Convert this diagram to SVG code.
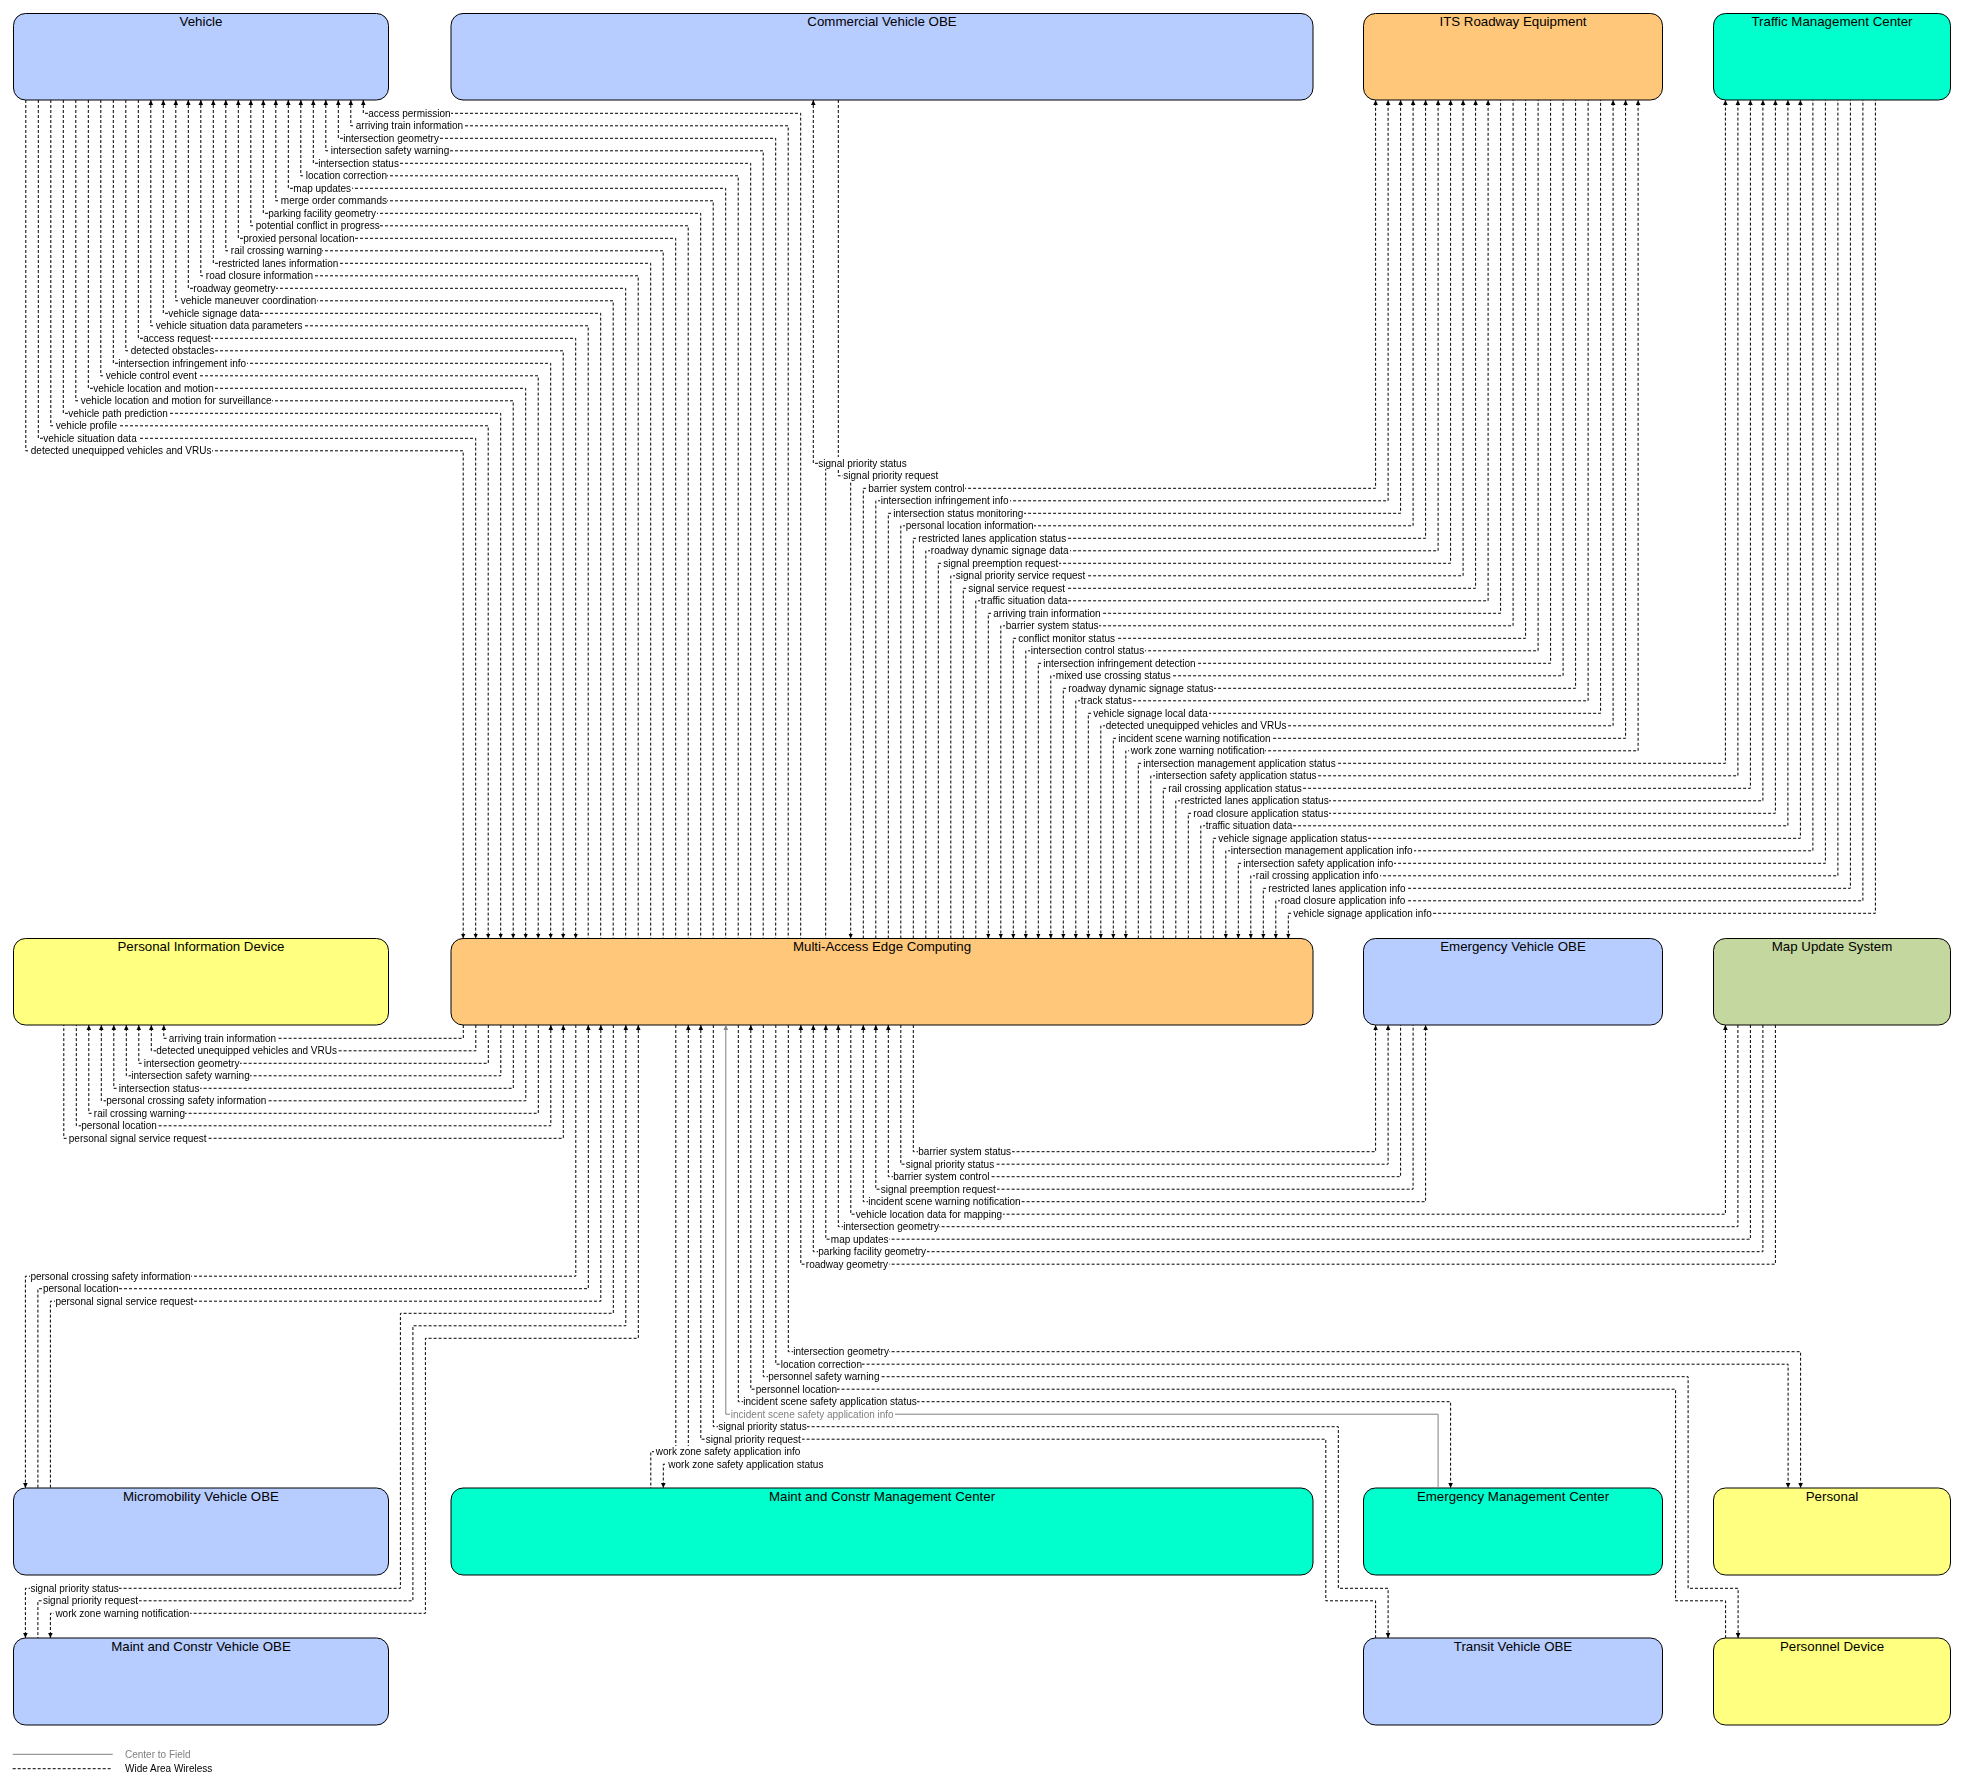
<svg xmlns="http://www.w3.org/2000/svg" width="1961" height="1787" viewBox="0 0 1961 1787">
<defs>
<style>
.bx{stroke:#000;stroke-width:1}
.blue{fill:#B7CCFF}.org{fill:#FFC77A}.aqua{fill:#00FFCC}.yel{fill:#FFFF80}.grn{fill:#C4D79E}
.t{font-family:"Liberation Sans",Arial,sans-serif;font-size:13.3px;text-anchor:middle;fill:#000}
.l{font-family:"Liberation Sans",Arial,sans-serif;font-size:10px;fill:#000;filter:url(#bg)}
.lg{fill:#808080}
</style>
<filter id="bg" x="0" y="0" width="1" height="1" color-interpolation-filters="sRGB"><feFlood flood-color="#fff"/><feComposite in="SourceGraphic"/></filter>
<marker id="a" markerUnits="userSpaceOnUse" viewBox="0 0 5 5" refX="5" refY="2.5" markerWidth="5" markerHeight="5" orient="auto-start-reverse"><path d="M0,0.2L5,2.5L0,4.8z" fill="#000"/></marker>
<marker id="ag" markerUnits="userSpaceOnUse" viewBox="0 0 5 5" refX="5" refY="2.5" markerWidth="5" markerHeight="5" orient="auto-start-reverse"><path d="M0,0.2L5,2.5L0,4.8z" fill="#808080"/></marker>
</defs>
<rect width="1961" height="1787" fill="#fff"/>

<g id="node-vehicle"><rect class="bx blue" x="13.5" y="13.5" width="375" height="86.5" rx="12"/><text class="t" x="201" y="26">Vehicle</text></g>
<g id="node-cvo"><rect class="bx blue" x="451" y="13.5" width="862" height="86.5" rx="12"/><text class="t" x="882" y="26">Commercial Vehicle OBE</text></g>
<g id="node-its"><rect class="bx org" x="1363.5" y="13.5" width="299" height="86.5" rx="12"/><text class="t" x="1513" y="26">ITS Roadway Equipment</text></g>
<g id="node-tmc"><rect class="bx aqua" x="1713.5" y="13.5" width="237" height="86.5" rx="12"/><text class="t" x="1832" y="26">Traffic Management Center</text></g>

<g id="node-pid"><rect class="bx yel" x="13.5" y="938.5" width="375" height="86.5" rx="12"/><text class="t" x="201" y="951">Personal Information Device</text></g>
<g id="node-maec"><rect class="bx org" x="451" y="938.5" width="862" height="86.5" rx="12"/><text class="t" x="882" y="951">Multi-Access Edge Computing</text></g>
<g id="node-evobe"><rect class="bx blue" x="1363.5" y="938.5" width="299" height="86.5" rx="12"/><text class="t" x="1513" y="951">Emergency Vehicle OBE</text></g>
<g id="node-mus"><rect class="bx grn" x="1713.5" y="938.5" width="237" height="86.5" rx="12"/><text class="t" x="1832" y="951">Map Update System</text></g>

<g id="node-micro"><rect class="bx blue" x="13.5" y="1488" width="375" height="87" rx="12"/><text class="t" x="201" y="1500.5">Micromobility Vehicle OBE</text></g>
<g id="node-mcmc"><rect class="bx aqua" x="451" y="1488" width="862" height="87" rx="12"/><text class="t" x="882" y="1500.5">Maint and Constr Management Center</text></g>
<g id="node-emc"><rect class="bx aqua" x="1363.5" y="1488" width="299" height="87" rx="12"/><text class="t" x="1513" y="1500.5">Emergency Management Center</text></g>
<g id="node-personal"><rect class="bx yel" x="1713.5" y="1488" width="237" height="87" rx="12"/><text class="t" x="1832" y="1500.5">Personal</text></g>

<g id="node-mcv"><rect class="bx blue" x="13.5" y="1638" width="375" height="87" rx="12"/><text class="t" x="201" y="1650.5">Maint and Constr Vehicle OBE</text></g>
<g id="node-transit"><rect class="bx blue" x="1363.5" y="1638" width="299" height="87" rx="12"/><text class="t" x="1513" y="1650.5">Transit Vehicle OBE</text></g>
<g id="node-pd"><rect class="bx yel" x="1713.5" y="1638" width="237" height="87" rx="12"/><text class="t" x="1832" y="1650.5">Personnel Device</text></g>

<g id="connectors" fill="none" stroke="#000" stroke-width="1" stroke-dasharray="3,2">
<path d="M363.3,100V113.3H800.7V938.5" marker-start="url(#a)"/>
<path d="M350.8,100V125.8H788.2V938.5" marker-start="url(#a)"/>
<path d="M338.3,100V138.3H775.7V938.5" marker-start="url(#a)"/>
<path d="M325.8,100V150.8H763.2V938.5" marker-start="url(#a)"/>
<path d="M313.3,100V163.3H750.7V938.5" marker-start="url(#a)"/>
<path d="M300.8,100V175.8H738.2V938.5" marker-start="url(#a)"/>
<path d="M288.3,100V188.3H725.7V938.5" marker-start="url(#a)"/>
<path d="M275.8,100V200.8H713.2V938.5" marker-start="url(#a)"/>
<path d="M263.3,100V213.3H700.7V938.5" marker-start="url(#a)"/>
<path d="M250.8,100V225.8H688.2V938.5" marker-start="url(#a)"/>
<path d="M238.3,100V238.3H675.7V938.5" marker-start="url(#a)"/>
<path d="M225.8,100V250.8H663.2V938.5" marker-start="url(#a)"/>
<path d="M213.3,100V263.3H650.7V938.5" marker-start="url(#a)"/>
<path d="M200.8,100V275.8H638.2V938.5" marker-start="url(#a)"/>
<path d="M188.3,100V288.3H625.7V938.5" marker-start="url(#a)"/>
<path d="M175.8,100V300.8H613.2V938.5" marker-start="url(#a)"/>
<path d="M163.3,100V313.3H600.7V938.5" marker-start="url(#a)"/>
<path d="M150.8,100V325.8H588.2V938.5" marker-start="url(#a)"/>
<path d="M138.3,100V338.3H575.7V938.5" marker-end="url(#a)"/>
<path d="M125.8,100V350.8H563.2V938.5" marker-end="url(#a)"/>
<path d="M113.3,100V363.3H550.7V938.5" marker-end="url(#a)"/>
<path d="M100.8,100V375.8H538.2V938.5" marker-end="url(#a)"/>
<path d="M88.3,100V388.3H525.7V938.5" marker-end="url(#a)"/>
<path d="M75.8,100V400.8H513.2V938.5" marker-end="url(#a)"/>
<path d="M63.3,100V413.3H500.7V938.5" marker-end="url(#a)"/>
<path d="M50.8,100V425.8H488.2V938.5" marker-end="url(#a)"/>
<path d="M38.3,100V438.3H475.7V938.5" marker-end="url(#a)"/>
<path d="M25.8,100V450.8H463.2V938.5" marker-end="url(#a)"/>

<path d="M813.3,100V463.3H825.7V938.5" marker-start="url(#a)"/>
<path d="M838.3,100V475.8H850.7V938.5" marker-end="url(#a)"/>

<path d="M863.3,938.5V488.3H1375.6V100" marker-end="url(#a)"/>
<path d="M875.8,938.5V500.8H1388.1V100" marker-end="url(#a)"/>
<path d="M888.3,938.5V513.3H1400.6V100" marker-end="url(#a)"/>
<path d="M900.8,938.5V525.8H1413.1V100" marker-end="url(#a)"/>
<path d="M913.3,938.5V538.3H1425.6V100" marker-end="url(#a)"/>
<path d="M925.8,938.5V550.8H1438.1V100" marker-end="url(#a)"/>
<path d="M938.3,938.5V563.3H1450.6V100" marker-end="url(#a)"/>
<path d="M950.8,938.5V575.8H1463.1V100" marker-end="url(#a)"/>
<path d="M963.3,938.5V588.3H1475.6V100" marker-end="url(#a)"/>
<path d="M975.8,938.5V600.8H1488.1V100" marker-end="url(#a)"/>
<path d="M988.3,938.5V613.3H1500.6V100" marker-start="url(#a)"/>
<path d="M1000.8,938.5V625.8H1513.1V100" marker-start="url(#a)"/>
<path d="M1013.3,938.5V638.3H1525.6V100" marker-start="url(#a)"/>
<path d="M1025.8,938.5V650.8H1538.1V100" marker-start="url(#a)"/>
<path d="M1038.3,938.5V663.3H1550.6V100" marker-start="url(#a)"/>
<path d="M1050.8,938.5V675.8H1563.1V100" marker-start="url(#a)"/>
<path d="M1063.3,938.5V688.3H1575.6V100" marker-start="url(#a)"/>
<path d="M1075.8,938.5V700.8H1588.1V100" marker-start="url(#a)"/>
<path d="M1088.3,938.5V713.3H1600.6V100" marker-start="url(#a)"/>
<path d="M1100.8,938.5V725.8H1613.1V100" marker-start="url(#a)" marker-end="url(#a)"/>
<path d="M1113.3,938.5V738.3H1625.6V100" marker-start="url(#a)" marker-end="url(#a)"/>
<path d="M1125.8,938.5V750.8H1638.1V100" marker-start="url(#a)" marker-end="url(#a)"/>

<path d="M1138.3,938.5V763.3H1725.4V100" marker-end="url(#a)"/>
<path d="M1150.8,938.5V775.8H1737.9V100" marker-end="url(#a)"/>
<path d="M1163.3,938.5V788.3H1750.4V100" marker-end="url(#a)"/>
<path d="M1175.8,938.5V800.8H1762.9V100" marker-end="url(#a)"/>
<path d="M1188.3,938.5V813.3H1775.4V100" marker-end="url(#a)"/>
<path d="M1200.8,938.5V825.8H1787.9V100" marker-end="url(#a)"/>
<path d="M1213.3,938.5V838.3H1800.4V100" marker-end="url(#a)"/>
<path d="M1225.8,938.5V850.8H1812.9V100" marker-start="url(#a)"/>
<path d="M1238.3,938.5V863.3H1825.4V100" marker-start="url(#a)"/>
<path d="M1250.8,938.5V875.8H1837.9V100" marker-start="url(#a)"/>
<path d="M1263.3,938.5V888.3H1850.4V100" marker-start="url(#a)"/>
<path d="M1275.8,938.5V900.8H1862.9V100" marker-start="url(#a)"/>
<path d="M1288.3,938.5V913.3H1875.4V100" marker-start="url(#a)"/>

<path d="M463.3,1025V1038.3H163.8V1025" marker-end="url(#a)"/>
<path d="M475.8,1025V1050.8H151.3V1025" marker-end="url(#a)"/>
<path d="M488.3,1025V1063.3H138.8V1025" marker-end="url(#a)"/>
<path d="M500.8,1025V1075.8H126.3V1025" marker-end="url(#a)"/>
<path d="M513.3,1025V1088.3H113.8V1025" marker-end="url(#a)"/>
<path d="M525.8,1025V1100.8H101.3V1025" marker-end="url(#a)"/>
<path d="M538.3,1025V1113.3H88.8V1025" marker-end="url(#a)"/>
<path d="M550.8,1025V1125.8H76.3V1025" marker-start="url(#a)"/>
<path d="M563.3,1025V1138.3H63.8V1025" marker-start="url(#a)"/>

<path d="M575.8,1025V1276.2H25.4V1488" marker-end="url(#a)"/>
<path d="M588.3,1025V1288.7H37.9V1488" marker-start="url(#a)"/>
<path d="M600.8,1025V1301.2H50.4V1488" marker-start="url(#a)"/>

<path d="M613.3,1025V1313.3H400.4V1588.3H25.4V1638" marker-end="url(#a)"/>
<path d="M625.8,1025V1325.8H412.9V1600.8H37.9V1638" marker-start="url(#a)"/>
<path d="M638.3,1025V1338.3H425.4V1613.3H50.4V1638" marker-start="url(#a)" marker-end="url(#a)"/>

<path d="M675.8,1025V1464.2H663.3V1488" marker-end="url(#a)"/>
<path d="M688.3,1025V1451.7H650.8V1488" marker-start="url(#a)"/>

<path d="M700.8,1025V1439.2H1325.8V1600.8H1375.6V1638" marker-start="url(#a)"/>
<path d="M713.3,1025V1426.7H1338.3V1588.3H1388.1V1638" marker-end="url(#a)"/>

<path d="M725.8,1025V1414.2H1438.1V1488" stroke="#808080" stroke-dasharray="none" marker-start="url(#ag)"/>
<path d="M738.3,1025V1401.7H1450.6V1488" marker-end="url(#a)"/>

<path d="M750.8,1025V1389.2H1675.6V1600.8H1725.6V1638" marker-start="url(#a)"/>
<path d="M763.3,1025V1376.7H1688.1V1588.3H1738.1V1638" marker-end="url(#a)"/>

<path d="M775.8,1025V1364.2H1788.1V1488" marker-end="url(#a)"/>
<path d="M788.3,1025V1351.7H1800.6V1488" marker-end="url(#a)"/>

<path d="M800.8,1025V1264.2H1775.4V1025" marker-start="url(#a)"/>
<path d="M813.3,1025V1251.7H1762.9V1025" marker-start="url(#a)"/>
<path d="M825.8,1025V1239.2H1750.4V1025" marker-start="url(#a)"/>
<path d="M838.3,1025V1226.7H1737.9V1025" marker-start="url(#a)"/>
<path d="M850.8,1025V1214.2H1725.4V1025" marker-end="url(#a)"/>

<path d="M863.3,1025V1201.7H1425.6V1025" marker-start="url(#a)" marker-end="url(#a)"/>
<path d="M875.8,1025V1189.2H1413.1V1025" marker-start="url(#a)"/>
<path d="M888.3,1025V1176.7H1400.6V1025" marker-start="url(#a)"/>
<path d="M900.8,1025V1164.2H1388.1V1025" marker-end="url(#a)"/>
<path d="M913.3,1025V1151.7H1375.6V1025" marker-end="url(#a)"/>
</g>

<g id="labels">
<text class="l" x="368.3" y="116.8">access permission</text>
<text class="l" x="355.8" y="129.3">arriving train information</text>
<text class="l" x="343.3" y="141.8">intersection geometry</text>
<text class="l" x="330.8" y="154.3">intersection safety warning</text>
<text class="l" x="318.3" y="166.8">intersection status</text>
<text class="l" x="305.8" y="179.3">location correction</text>
<text class="l" x="293.3" y="191.8">map updates</text>
<text class="l" x="280.8" y="204.3">merge order commands</text>
<text class="l" x="268.3" y="216.8">parking facility geometry</text>
<text class="l" x="255.8" y="229.3">potential conflict in progress</text>
<text class="l" x="243.3" y="241.8">proxied personal location</text>
<text class="l" x="230.8" y="254.3">rail crossing warning</text>
<text class="l" x="218.3" y="266.8">restricted lanes information</text>
<text class="l" x="205.8" y="279.3">road closure information</text>
<text class="l" x="193.3" y="291.8">roadway geometry</text>
<text class="l" x="180.8" y="304.3">vehicle maneuver coordination</text>
<text class="l" x="168.3" y="316.8">vehicle signage data</text>
<text class="l" x="155.8" y="329.3">vehicle situation data parameters</text>
<text class="l" x="143.3" y="341.8">access request</text>
<text class="l" x="130.8" y="354.3">detected obstacles</text>
<text class="l" x="118.3" y="366.8">intersection infringement info</text>
<text class="l" x="105.8" y="379.3">vehicle control event</text>
<text class="l" x="93.3" y="391.8">vehicle location and motion</text>
<text class="l" x="80.8" y="404.3">vehicle location and motion for surveillance</text>
<text class="l" x="68.3" y="416.8">vehicle path prediction</text>
<text class="l" x="55.8" y="429.3">vehicle profile</text>
<text class="l" x="43.3" y="441.8">vehicle situation data</text>
<text class="l" x="30.8" y="454.3">detected unequipped vehicles and VRUs</text>

<text class="l" x="818.3" y="466.8">signal priority status</text>
<text class="l" x="843.3" y="479.3">signal priority request</text>
<text class="l" x="868.3" y="491.8">barrier system control</text>
<text class="l" x="880.8" y="504.3">intersection infringement info</text>
<text class="l" x="893.3" y="516.8">intersection status monitoring</text>
<text class="l" x="905.8" y="529.3">personal location information</text>
<text class="l" x="918.3" y="541.8">restricted lanes application status</text>
<text class="l" x="930.8" y="554.3">roadway dynamic signage data</text>
<text class="l" x="943.3" y="566.8">signal preemption request</text>
<text class="l" x="955.8" y="579.3">signal priority service request</text>
<text class="l" x="968.3" y="591.8">signal service request</text>
<text class="l" x="980.8" y="604.3">traffic situation data</text>
<text class="l" x="993.3" y="616.8">arriving train information</text>
<text class="l" x="1005.8" y="629.3">barrier system status</text>
<text class="l" x="1018.3" y="641.8">conflict monitor status</text>
<text class="l" x="1030.8" y="654.3">intersection control status</text>
<text class="l" x="1043.3" y="666.8">intersection infringement detection</text>
<text class="l" x="1055.8" y="679.3">mixed use crossing status</text>
<text class="l" x="1068.3" y="691.8">roadway dynamic signage status</text>
<text class="l" x="1080.8" y="704.3">track status</text>
<text class="l" x="1093.3" y="716.8">vehicle signage local data</text>
<text class="l" x="1105.8" y="729.3">detected unequipped vehicles and VRUs</text>
<text class="l" x="1118.3" y="741.8">incident scene warning notification</text>
<text class="l" x="1130.8" y="754.3">work zone warning notification</text>
<text class="l" x="1143.3" y="766.8">intersection management application status</text>
<text class="l" x="1155.8" y="779.3">intersection safety application status</text>
<text class="l" x="1168.3" y="791.8">rail crossing application status</text>
<text class="l" x="1180.8" y="804.3">restricted lanes application status</text>
<text class="l" x="1193.3" y="816.8">road closure application status</text>
<text class="l" x="1205.8" y="829.3">traffic situation data</text>
<text class="l" x="1218.3" y="841.8">vehicle signage application status</text>
<text class="l" x="1230.8" y="854.3">intersection management application info</text>
<text class="l" x="1243.3" y="866.8">intersection safety application info</text>
<text class="l" x="1255.8" y="879.3">rail crossing application info</text>
<text class="l" x="1268.3" y="891.8">restricted lanes application info</text>
<text class="l" x="1280.8" y="904.3">road closure application info</text>
<text class="l" x="1293.3" y="916.8">vehicle signage application info</text>

<text class="l" x="168.8" y="1041.8">arriving train information</text>
<text class="l" x="156.3" y="1054.3">detected unequipped vehicles and VRUs</text>
<text class="l" x="143.8" y="1066.8">intersection geometry</text>
<text class="l" x="131.3" y="1079.3">intersection safety warning</text>
<text class="l" x="118.8" y="1091.8">intersection status</text>
<text class="l" x="106.3" y="1104.3">personal crossing safety information</text>
<text class="l" x="93.8" y="1116.8">rail crossing warning</text>
<text class="l" x="81.3" y="1129.3">personal location</text>
<text class="l" x="68.8" y="1141.8">personal signal service request</text>

<text class="l" x="918.3" y="1155.2">barrier system status</text>
<text class="l" x="905.8" y="1167.7">signal priority status</text>
<text class="l" x="893.3" y="1180.2">barrier system control</text>
<text class="l" x="880.8" y="1192.7">signal preemption request</text>
<text class="l" x="868.3" y="1205.2">incident scene warning notification</text>
<text class="l" x="855.8" y="1217.7">vehicle location data for mapping</text>
<text class="l" x="843.3" y="1230.2">intersection geometry</text>
<text class="l" x="830.8" y="1242.7">map updates</text>
<text class="l" x="818.3" y="1255.2">parking facility geometry</text>
<text class="l" x="805.8" y="1267.7">roadway geometry</text>

<text class="l" x="30.4" y="1279.7">personal crossing safety information</text>
<text class="l" x="42.9" y="1292.2">personal location</text>
<text class="l" x="55.4" y="1304.7">personal signal service request</text>

<text class="l" x="793.3" y="1355.2">intersection geometry</text>
<text class="l" x="780.8" y="1367.7">location correction</text>
<text class="l" x="768.3" y="1380.2">personnel safety warning</text>
<text class="l" x="755.8" y="1392.7">personnel location</text>
<text class="l" x="743.3" y="1405.2">incident scene safety application status</text>
<text class="l lg" x="730.8" y="1417.7">incident scene safety application info</text>
<text class="l" x="718.3" y="1430.2">signal priority status</text>
<text class="l" x="705.8" y="1442.7">signal priority request</text>
<text class="l" x="655.8" y="1455.2">work zone safety application info</text>
<text class="l" x="668.3" y="1467.7">work zone safety application status</text>

<text class="l" x="30.4" y="1591.8">signal priority status</text>
<text class="l" x="42.9" y="1604.3">signal priority request</text>
<text class="l" x="55.4" y="1616.8">work zone warning notification</text>
</g>

<g id="legend">
<path d="M12.7,1754.3H112.7" stroke="#808080" stroke-width="1" fill="none"/>
<path d="M12.7,1768.7H112.7" stroke="#000" stroke-width="1" stroke-dasharray="3,2" fill="none"/>
<text class="l lg" x="125" y="1757.8">Center to Field</text>
<text class="l" x="125" y="1772.2">Wide Area Wireless</text>
</g>
</svg>
